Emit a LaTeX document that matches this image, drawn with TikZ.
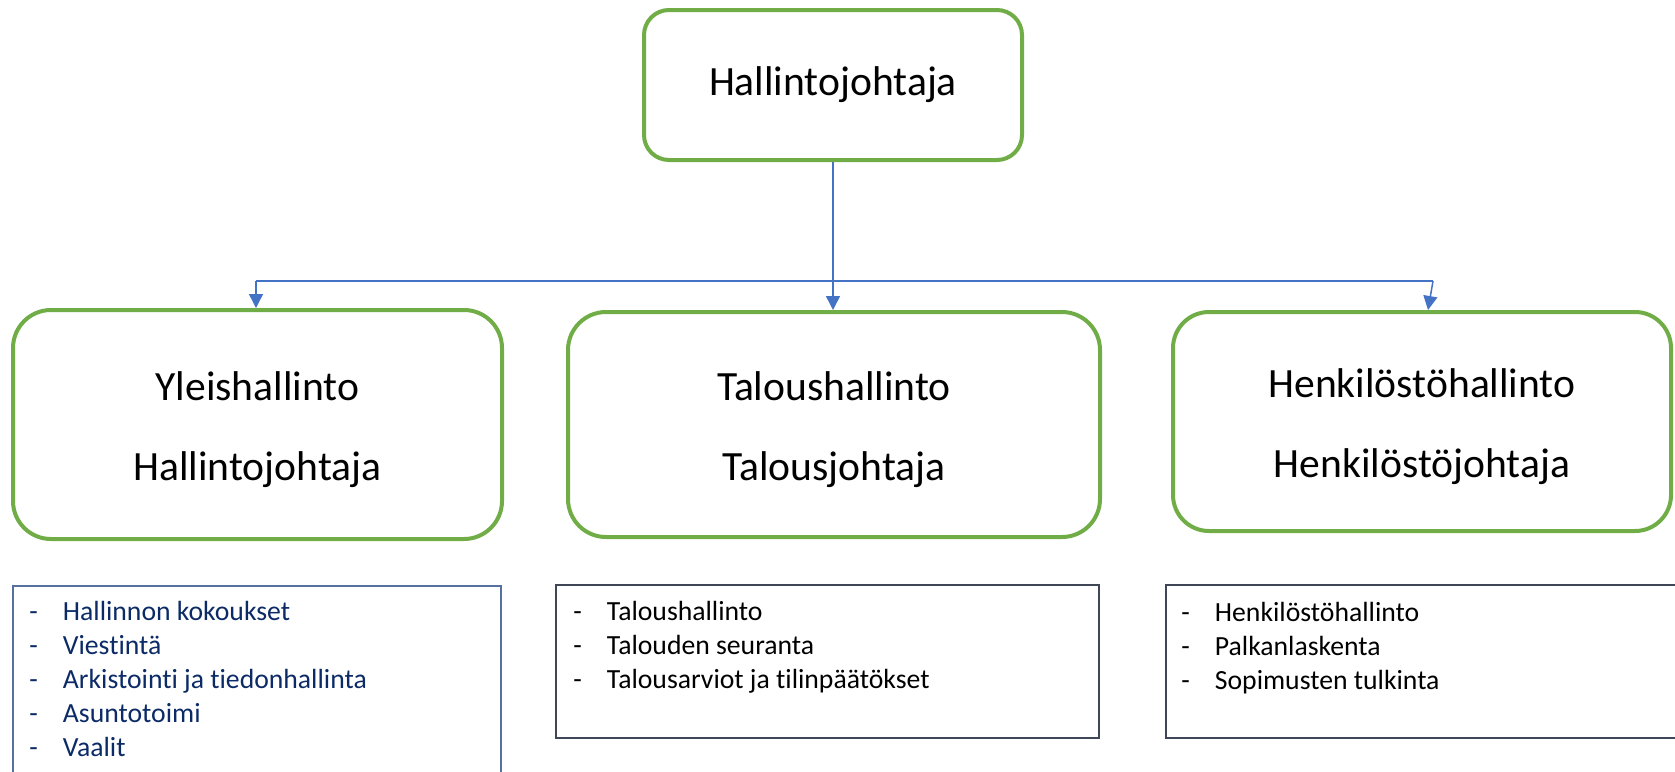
\documentclass[tikz,border=0pt]{standalone}
\usepackage{fontspec}
\setmainfont{Carlito}[Ligatures=CommonOff]
\usetikzlibrary{arrows.meta,positioning}
\definecolor{laatikko}{HTML}{70AD47}
\definecolor{yhteysvari}{HTML}{4472C4}
\definecolor{tummasini}{HTML}{0B2A66}
\definecolor{reunasini}{HTML}{56719F}
\definecolor{reunaharmaa}{HTML}{3F4756}
\newcommand{\rivi}[1]{\makebox[16.75pt][l]{-}#1}
\newcommand{\ylatuki}{\rule{0pt}{20pt}}

\begin{document}
\begin{tikzpicture}[x=0.5pt,y=-0.5pt,
  yksikko/.style={draw=laatikko, line width=2pt, rounded corners=#1, align=center, inner sep=0pt,
    font=\fontsize{20.8}{40}\selectfont},
  lista/.style={draw=#1, line width=0.75pt, inner sep=0pt},
  listateksti/.style={anchor=north west, align=left, inner sep=0pt,
    font=\fontsize{13.85}{17}\selectfont},
  yhteys/.style={draw=yhteysvari, line width=0.75pt, -{Triangle[width=7pt,length=7pt]}}]
\useasboundingbox (0,0) rectangle (1675,771);
\clip (0,0) rectangle (1675,771);
% top box
\node[yksikko=12.5pt, minimum width=189pt, minimum height=75pt] (hallinto) at (833,85) {Hallintojohtaja};
% units
\node[yksikko=19pt, minimum width=244.5pt, minimum height=114.5pt] (yleis) at (257.5,424.5) {\ylatuki Yleishallinto\\Hallintojohtaja};
\node[yksikko=19pt, minimum width=266pt, minimum height=112.5pt] (talous) at (834,424.5) {\ylatuki Taloushallinto\\Talousjohtaja};
\node[yksikko=18pt, minimum width=249pt, minimum height=109.5pt] (henk) at (1422,421.5) {\ylatuki Henkilöstöhallinto\\Henkilöstöjohtaja};
% task lists
\node[lista=reunasini, minimum width=244pt, minimum height=107pt] (yleislista) at (257,693) {};
\node[lista=reunaharmaa, minimum width=271.5pt, minimum height=76.5pt] (talouslista) at (827.5,661.5) {};
\node[lista=reunaharmaa, minimum width=262pt, minimum height=76.5pt] (henklista) at (1428,661.5) {};
\node[listateksti, text=tummasini] (yleistehtavat) at (29,601) {\rivi{Hallinnon kokoukset}\\\rivi{Viestintä}\\\rivi{Arkistointi ja tiedonhallinta}\\\rivi{Asuntotoimi}\\\rivi{Vaalit}};
\node[listateksti] (taloustehtavat) at (573,601) {\rivi{Taloushallinto}\\\rivi{Talouden seuranta}\\\rivi{Talousarviot ja tilinpäätökset}};
\node[listateksti] (henktehtavat) at (1181,602) {\rivi{Henkilöstöhallinto}\\\rivi{Palkanlaskenta}\\\rivi{Sopimusten tulkinta}};
% connectors
\coordinate (haaravasen) at (256,281);
\coordinate (haaraoikea) at (1433,281);
\draw[yhteys] (hallinto.south) -- (hallinto.south |- talous.north);
\draw[yhteysvari, line width=0.75pt] (haaravasen) -- (haaraoikea);
\draw[yhteys] (haaravasen) -- (haaravasen |- yleis.north);
\draw[yhteys] (haaraoikea) -- ([xshift=3pt]henk.north);
\end{tikzpicture}
\end{document}
